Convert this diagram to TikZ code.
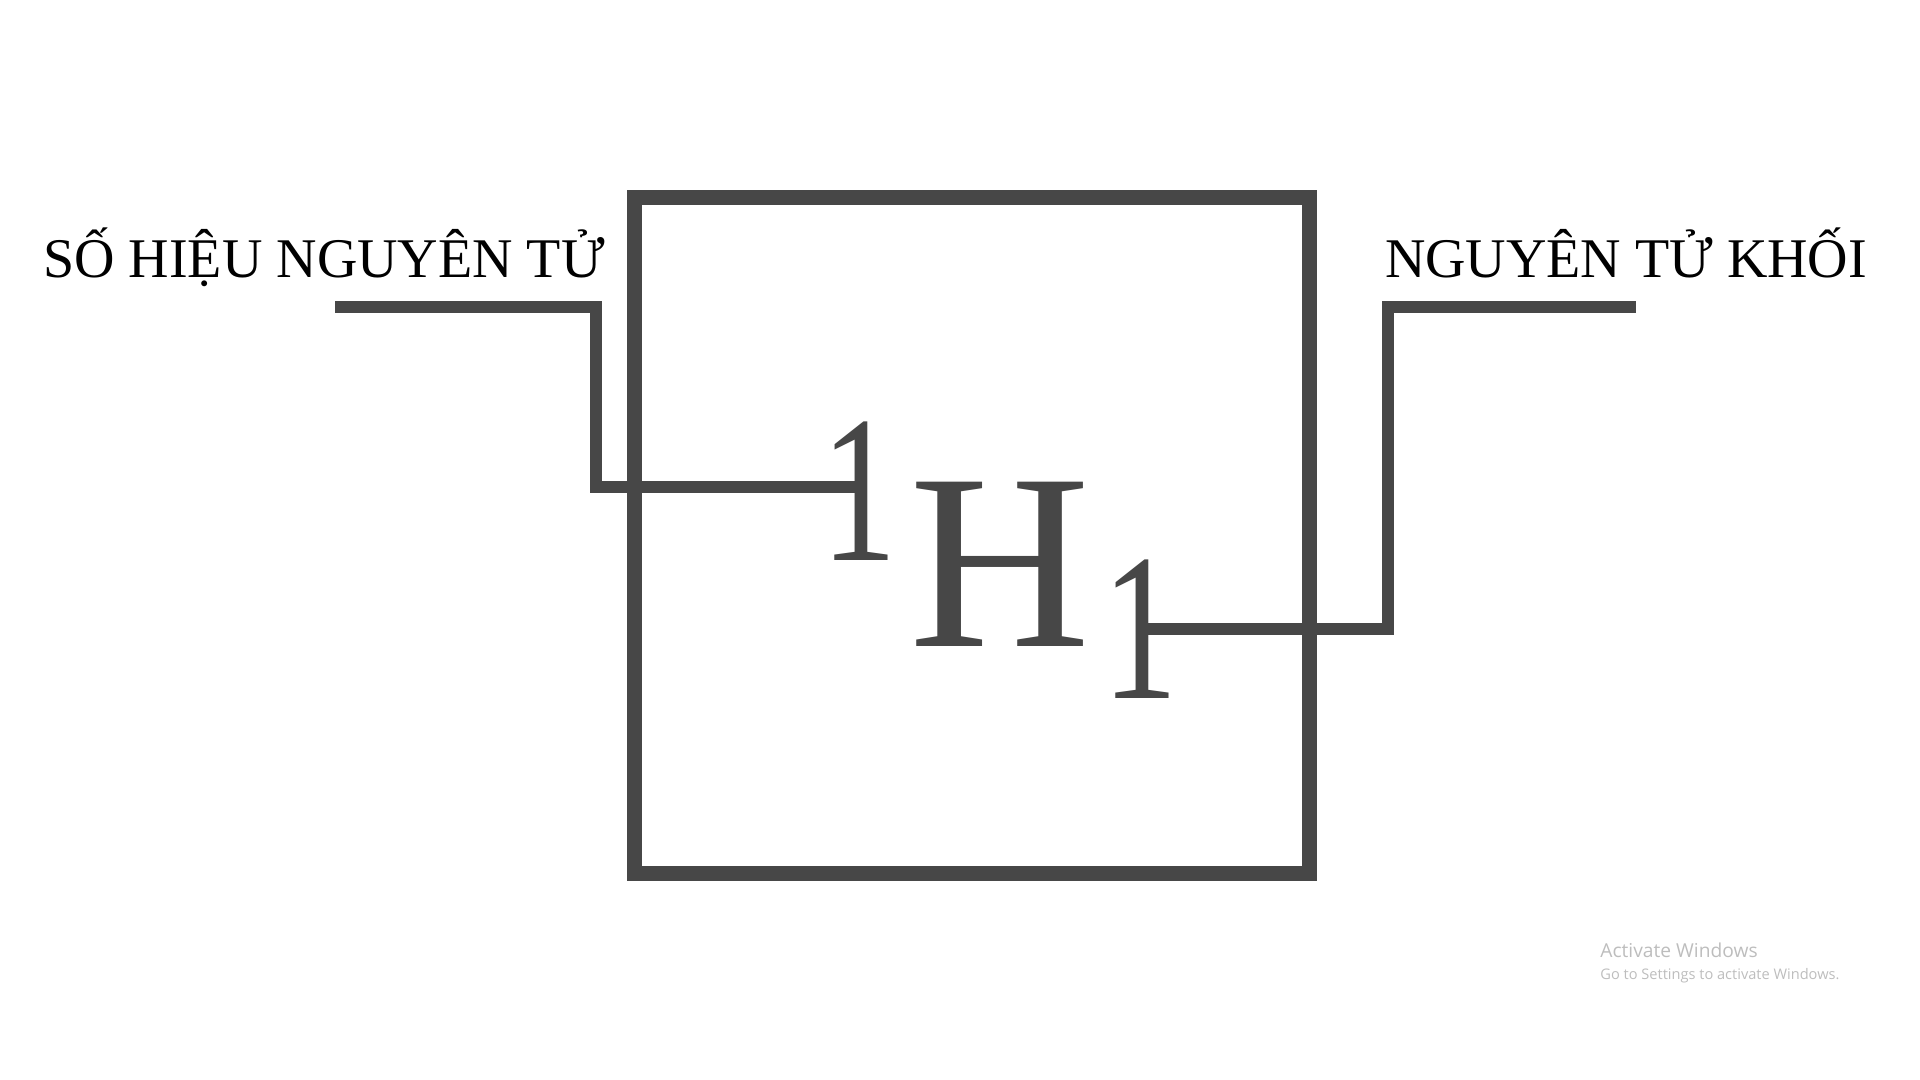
\documentclass[tikz,border=0pt]{standalone}
\usepackage{fontspec}
\setmainfont{Liberation Serif}
\newfontfamily\winfont{Open Sans}
\usepackage{graphicx}
\usepackage{xcolor}
\usepackage{tikz}
\usetikzlibrary{positioning}
\definecolor{symgray}{HTML}{474747}
\definecolor{wmgray}{HTML}{BDBDBD}
\newcommand{\thinone}{\scalebox{0.72}[1]{1}}

\begin{document}
\begin{tikzpicture}[
    x=0.5pt, y=-0.5pt,
    frame/.style={draw=symgray,line width=7.5pt,minimum size=337.5pt,inner sep=0pt},
    term/.style={inner sep=0pt,anchor=base,font=\fontsize{28pt}{34pt}\selectfont},
    symbol/.style={text=symgray,inner sep=0pt,anchor=base,font=\fontsize{125.5pt}{130pt}\selectfont},
    index/.style={text=symgray,inner sep=0pt,anchor=base,font=\fontsize{105pt}{110pt}\selectfont},
    link/.style={draw=symgray,line width=6pt},
    watermark/.style={text=wmgray,inner sep=0pt,anchor=base west}
  ]
    \useasboundingbox (0,0) rectangle (1920,1080);
    \node[frame] (cell) at (971.5,535.5) {};

    \node[term] (atomicno) at (324,278) {SỐ HIỆU NGUYÊN TỬ};
    \node[term] (massno) at (1626,278) {NGUYÊN TỬ KHỐI};

    \node[symbol] (elem) at (1000,646) {H};
    \node[index] (sup) at (859.5,560) {\thinone};
    \node[index] (sub) at (1140.5,698) {\thinone};

    \coordinate (lft) at (335,307.5);
    \coordinate (lbend) at (596,307.5);
    \coordinate (rbend) at (1388,307.5);
    \coordinate (rgt) at (1636,307.5);

    \draw[link] (lft) -- (lbend) |- ([yshift=2pt]sup.center);
    \draw[link] (sub.center) -| (rbend) -- (rgt);

    \node[watermark,font=\winfont\fontsize{9.6pt}{12pt}\selectfont] (wmtitle) at (1600,957) {Activate Windows};
    \node[watermark,font=\winfont\fontsize{7.3pt}{9pt}\selectfont] (wmhint) at (1600,979) {Go to Settings to activate Windows.};
  \end{tikzpicture}
\end{document}
